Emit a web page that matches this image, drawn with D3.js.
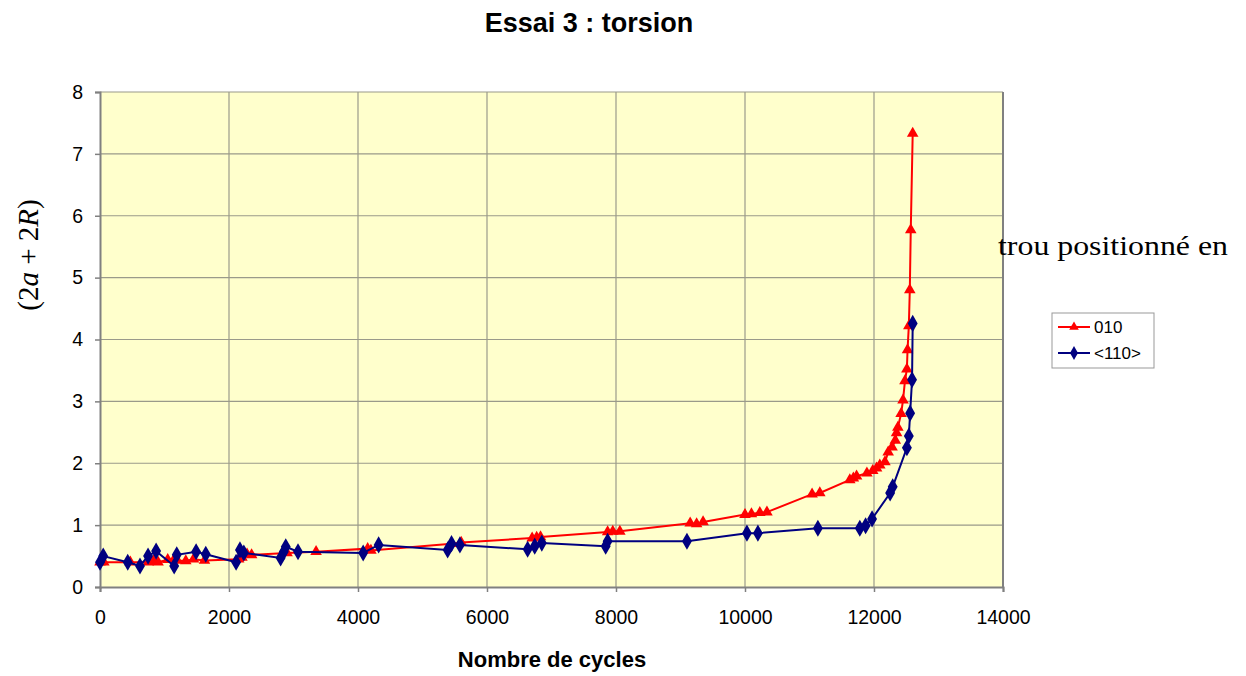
<!DOCTYPE html>
<html><head><meta charset="utf-8">
<script src="https://cdn.jsdelivr.net/npm/d3@7"></script>
<style>body{margin:0;background:#fff}svg{display:block}</style>
</head><body>
<svg id="c" width="1246" height="676"></svg>
<script>
const titleText = "Essai 3 : torsion";
const xLabel = "Nombre de cycles";
const sideText = "trou positionné en";
const xTicks = [0,2000,4000,6000,8000,10000,12000,14000];
const yTicks = [0,1,2,3,4,5,6,7,8];
const seriesNames = ["010","<110>"];

const redX = [0,60,470,750,830,900,1050,1150,1200,1330,1450,1620,2150,2200,2280,2350,2900,3350,4150,4200,5450,5600,6700,6770,6830,7870,7950,8060,9150,9250,9350,10000,10100,10230,10340,11040,11160,11625,11680,11730,11890,11980,12040,12090,12170,12220,12280,12330,12350,12370,12420,12450,12480,12510,12520,12540,12555,12570,12600];
const redY = [0.40,0.40,0.40,0.40,0.42,0.40,0.44,0.45,0.43,0.42,0.45,0.43,0.45,0.48,0.53,0.52,0.55,0.57,0.62,0.59,0.70,0.72,0.79,0.80,0.81,0.89,0.90,0.90,1.03,1.02,1.05,1.17,1.18,1.20,1.21,1.50,1.52,1.73,1.76,1.79,1.84,1.88,1.92,1.97,2.02,2.18,2.26,2.37,2.49,2.58,2.80,3.02,3.33,3.52,3.83,4.22,4.80,5.77,7.33];

const blueX = [0,50,430,620,745,870,1150,1190,1490,1640,2110,2170,2230,2800,2850,2880,3070,4080,4320,5390,5450,5580,6630,6740,6850,7840,7870,9100,10030,10200,11130,11780,11870,11970,12250,12290,12510,12540,12560,12590,12600];
const blueY = [0.40,0.50,0.40,0.34,0.50,0.58,0.34,0.52,0.57,0.53,0.40,0.60,0.55,0.47,0.57,0.65,0.57,0.55,0.68,0.60,0.70,0.68,0.61,0.66,0.71,0.66,0.74,0.74,0.87,0.87,0.95,0.95,0.99,1.10,1.52,1.62,2.25,2.44,2.81,3.35,4.26];

const svg = d3.select("#c");
const L=100, R=1003, T=92, B=587;
const x = d3.scaleLinear().domain([0,14000]).range([L,R]);
const y = d3.scaleLinear().domain([0,8]).range([B,T]);

svg.append("rect").attr("x",L).attr("y",T).attr("width",R-L).attr("height",B-T).attr("fill","#FFFFCC");

// grid
svg.append("g").selectAll("line").data(yTicks.slice(1)).join("line")
  .attr("x1",L).attr("x2",R).attr("y1",d=>y(d)).attr("y2",d=>y(d))
  .attr("stroke","#9a9a8a").attr("stroke-width",1.2);
svg.append("g").selectAll("line").data(xTicks.slice(1,-1)).join("line")
  .attr("y1",T).attr("y2",B).attr("x1",d=>x(d)).attr("x2",d=>x(d))
  .attr("stroke","#9a9a8a").attr("stroke-width",1.2);
svg.append("line").attr("x1",R).attr("x2",R).attr("y1",T).attr("y2",B).attr("stroke","#808080").attr("stroke-width",2);

// axes
const xa = svg.append("g").attr("transform",`translate(0,${B})`)
  .call(d3.axisBottom(x).tickValues(xTicks).tickFormat(d3.format("d")).tickSize(5).tickPadding(18));
const ya = svg.append("g").attr("transform",`translate(${L},0)`)
  .call(d3.axisLeft(y).tickValues(yTicks).tickFormat(d3.format("d")).tickSize(5).tickPadding(12));
[xa,ya].forEach(a=>{
  a.select(".domain").attr("stroke","#808080").attr("stroke-width",2);
  a.selectAll(".tick line").attr("stroke","#808080").attr("stroke-width",1.5);
  a.selectAll("text").attr("font-family","Liberation Sans, Arial, sans-serif").attr("font-size",19.5).attr("fill","#000");
});

const line = d3.line().x(d=>x(d[0])).y(d=>y(d[1]));
const red = redX.map((v,i)=>[v,redY[i]]);
const blue = blueX.map((v,i)=>[v,blueY[i]]);

svg.append("path").datum(red).attr("d",line).attr("fill","none").attr("stroke","#FF0000").attr("stroke-width",2);
svg.append("g").selectAll("path").data(red).join("path")
  .attr("d",d3.symbol(d3.symbolTriangle,58)).attr("transform",d=>`translate(${x(d[0])},${y(d[1])})`).attr("fill","#FF0000");

svg.append("path").datum(blue).attr("d",line).attr("fill","none").attr("stroke","#000080").attr("stroke-width",2);
svg.append("g").selectAll("path").data(blue).join("path")
  .attr("d",d3.symbol(d3.symbolDiamond,85)).attr("transform",d=>`translate(${x(d[0])},${y(d[1])})`).attr("fill","#000080");

// title & labels
svg.append("text").attr("x",589).attr("y",32).attr("text-anchor","middle")
  .attr("font-family","Liberation Sans, Arial, sans-serif").attr("font-weight","bold").attr("font-size",27).text(titleText);
svg.append("text").attr("x",552).attr("y",667).attr("text-anchor","middle")
  .attr("font-family","Liberation Sans, Arial, sans-serif").attr("font-weight","bold").attr("font-size",22).text(xLabel);
svg.append("text").attr("x",998).attr("y",255)
  .attr("font-family","Liberation Serif, DejaVu Serif, serif").attr("font-size",27)
  .attr("textLength",230).attr("lengthAdjust","spacingAndGlyphs").text(sideText);

// y label (2a + 2R)
const yl = svg.append("text").attr("transform","translate(38,255) rotate(-90)").attr("text-anchor","middle")
  .attr("font-family","Liberation Serif, DejaVu Serif, serif").attr("font-size",29);
yl.append("tspan").text("(2");
yl.append("tspan").attr("font-style","italic").text("a");
yl.append("tspan").text(" + 2");
yl.append("tspan").attr("font-style","italic").text("R");
yl.append("tspan").text(")");

// legend
const lg = svg.append("g");
lg.append("rect").attr("x",1052).attr("y",313).attr("width",102).attr("height",55).attr("fill","#fff").attr("stroke","#999").attr("stroke-width",1);
const colors=["#FF0000","#000080"], syms=[d3.symbolTriangle,d3.symbolDiamond], sz=[40,55];
seriesNames.forEach((n,i)=>{
  const yy = 327+i*26;
  lg.append("line").attr("x1",1058).attr("x2",1090).attr("y1",yy).attr("y2",yy).attr("stroke",colors[i]).attr("stroke-width",2);
  lg.append("path").attr("d",d3.symbol(syms[i],sz[i])).attr("transform",`translate(1074,${yy})`).attr("fill",colors[i]);
  lg.append("text").attr("x",1094).attr("y",yy+6).attr("font-family","Liberation Sans, Arial, sans-serif").attr("font-size",17).text(n);
});
</script>
</body></html>
